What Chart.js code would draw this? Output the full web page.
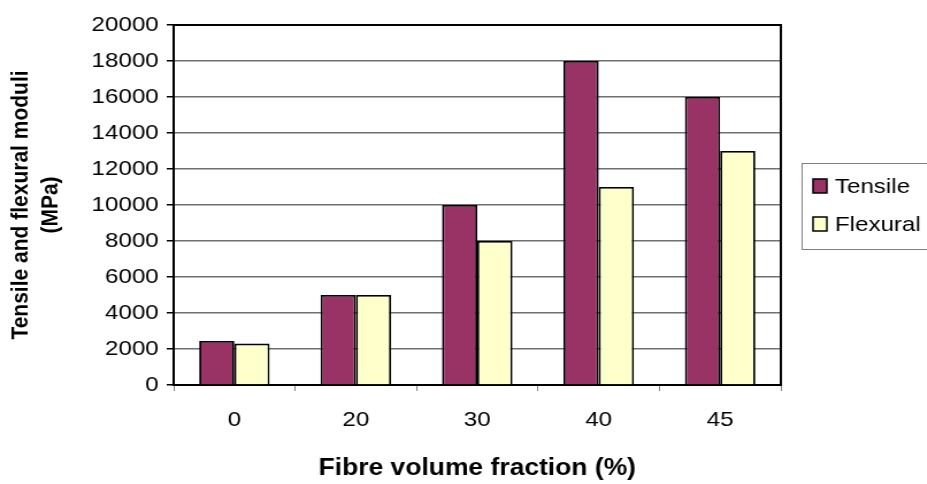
<!DOCTYPE html>
<html>
<head>
<meta charset="utf-8">
<script src="https://cdn.jsdelivr.net/npm/chart.js@4.4.1/dist/chart.umd.min.js"></script>
<style>
    html, body { margin: 0; padding: 0; background: #fff; overflow: hidden; }
    /* the original picture is stretched sideways, so the canvas is too */
    #modulusChart { transform: scaleX(1.15); transform-origin: 0 0; }
</style>
</head>
<body>
<canvas id="modulusChart" width="806" height="484" style="width:806px;height:484px"></canvas>
<script>
const fractions = ['0', '20', '30', '40', '45'];
const tensile = [2450, 5000, 10000, 18000, 16000];
const flexural = [2300, 5000, 8000, 11000, 13000];
const yTicks = [0, 2000, 4000, 6000, 8000, 10000, 12000, 14000, 16000, 18000, 20000];

const FONT = '"Liberation Sans", Arial, sans-serif';

// frame round the plot area + the boxed legend on the right
const framePlugin = {
    id: 'frame',
    afterDraw(chart) {
        const { ctx, chartArea: a } = chart;
        ctx.save();
        ctx.strokeStyle = '#000';
        ctx.lineWidth = 2;
        ctx.beginPath();
        ctx.moveTo(a.left, a.top);
        ctx.lineTo(a.right, a.top);
        ctx.lineTo(a.right, a.bottom);
        ctx.stroke();

        // legend
        ctx.strokeStyle = '#808080';
        ctx.lineWidth = 1;
        ctx.strokeRect(697.5, 163.5, 140, 86);
        ctx.font = '21px ' + FONT;
        ctx.textBaseline = 'middle';
        chart.data.datasets.forEach((ds, i) => {
            const y = 186 + i * 38;
            ctx.fillStyle = ds.backgroundColor;
            ctx.fillRect(707, y - 7, 12, 14);
            ctx.strokeStyle = '#000';
            ctx.lineWidth = 1.5;
            ctx.strokeRect(707, y - 7, 12, 14);
            ctx.fillStyle = '#000';
            ctx.fillText(ds.label, 726, y + 1);
        });
        ctx.restore();
    }
};

new Chart(document.getElementById('modulusChart').getContext('2d'), {
    type: 'bar',
    data: {
        labels: fractions,
        datasets: [
            { label: 'Tensile', data: tensile, backgroundColor: '#993366', borderColor: '#000', borderWidth: 1.8 },
            { label: 'Flexural', data: flexural, backgroundColor: '#FFFFCC', borderColor: '#000', borderWidth: 1.8 },
        ],
    },
    options: {
        responsive: false,
        animation: false,
        categoryPercentage: 0.58,
        barPercentage: 1.0,
        layout: { padding: { top: 25, right: 127, left: 0, bottom: 0 } },
        plugins: {
            legend: { display: false },
            tooltip: { enabled: false },
        },
        scales: {
            x: {
                grid: { drawOnChartArea: false, drawTicks: true, tickLength: 6, color: '#808080', offset: true },
                border: { color: '#000', width: 2 },
                ticks: { color: '#000', font: { family: FONT, size: 21 }, padding: 17 },
                title: { display: true, text: 'Fibre volume fraction (%)', color: '#000', font: { family: FONT, size: 23, weight: 'bold', lineHeight: 1.2 }, padding: { top: 4, bottom: 2 } },
                afterFit(scale) { scale.height = 99; },
            },
            y: {
                min: 0,
                max: 20000,
                afterBuildTicks(scale) { scale.ticks = yTicks.map(v => ({ value: v })); },
                grid: { color: '#707070', lineWidth: 1.5, tickLength: 6, tickColor: '#000' },
                border: { color: '#000', width: 2 },
                ticks: { color: '#000', font: { family: FONT, size: 21 }, padding: 7, callback: v => String(v) },
                title: { display: true, text: ['Tensile and flexural moduli', '(MPa)'], color: '#000', font: { family: FONT, size: 21, weight: 'bold', lineHeight: 1.24 }, padding: { top: 5, bottom: 4 } },
                afterFit(scale) { scale.width = 151; },
            },
        },
    },
    plugins: [framePlugin],
});
</script>
</body>
</html>
